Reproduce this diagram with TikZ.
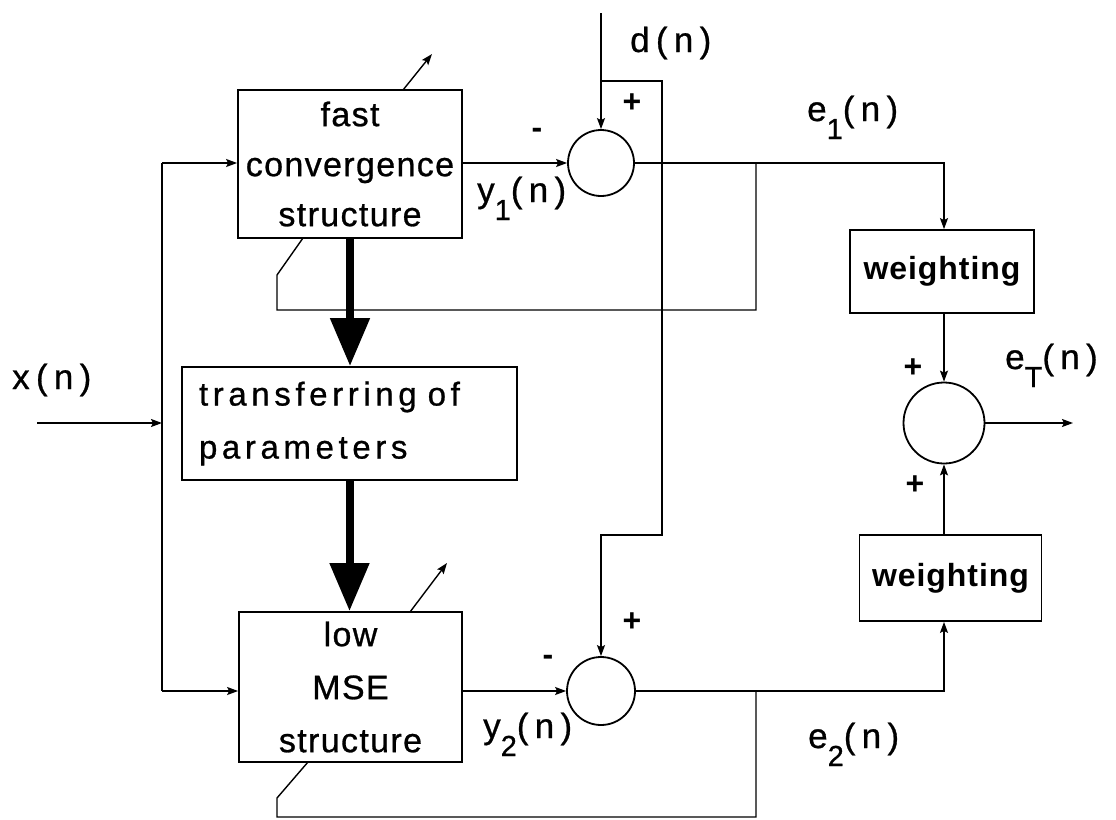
\documentclass[tikz,border=0pt]{standalone}
\usepackage{fontspec}
\setmainfont{Liberation Sans}
\newfontfamily\boxfont[LetterSpace=4,FakeBold=0.8]{Liberation Sans}
\newfontfamily\trfont[LetterSpace=14,FakeBold=0.8]{Liberation Sans}
\newfontfamily\wfont[LetterSpace=3]{Liberation Sans}
\newfontfamily\lblfont[LetterSpace=18,FakeBold=0.8]{Liberation Sans}
\usetikzlibrary{arrows.meta}
\newcommand\lsub[1]{\raisebox{-18pt}{\fontsize{29}{29}\selectfont #1}}
\tikzset{
  blockbox/.style={draw, line width=1.8pt, inner sep=0pt},
  sumnode/.style={draw, circle, line width=1.8pt, inner sep=0pt},
  conn/.style={line width=1.4pt},
  arr/.style={conn, -{Stealth[length=11pt,width=8pt,inset=2pt]}},
  bigarr/.style={line width=8pt, -{Triangle[length=48pt,width=38pt]}},
  lbl/.style={anchor=base west, inner sep=0pt, font=\lblfont\fontsize{35}{40}\selectfont},
  sign/.style={inner sep=0pt, font=\fontsize{32}{38}\selectfont\bfseries},
}
\begin{document}
\begin{tikzpicture}[x=1pt,y=-1pt]
\useasboundingbox (0,0) rectangle (1116,819);

% blocks
\node[blockbox, minimum width=224pt, minimum height=148pt, align=center,
      font=\boxfont\fontsize{34}{50}\selectfont] (fast) at (350,164) {fast\\convergence\\structure};
\node[blockbox, minimum width=223pt, minimum height=150pt, align=center,
      font=\boxfont\fontsize{34}{53}\selectfont] (low) at (350.5,687) {low\\MSE\\structure};
\node[blockbox, text width=301pt, inner xsep=17pt, minimum height=113pt, align=left,
      font=\trfont\fontsize{33}{53}\selectfont] (transfer) at (349.5,423.5) {transferring of\\parameters};
\node[blockbox, minimum width=184pt, minimum height=83pt,
      font=\wfont\bfseries\fontsize{32}{38}\selectfont] (w1) at (942,271.5) {weighting};
\node[blockbox, minimum width=182pt, minimum height=86pt,
      font=\wfont\bfseries\fontsize{32}{38}\selectfont] (w2) at (950.5,578) {weighting};

% summing junctions
\node[sumnode, minimum size=66pt] (sum1) at (601,163) {};
\node[sumnode, minimum size=68pt] (sum2) at (601,691) {};
\node[sumnode, minimum size=81pt] (sum3) at (944,423) {};

% coordinates
\coordinate (xin) at (37,423);
\coordinate (xj) at (162,423);
\coordinate (xtop) at (162,163);
\coordinate (xbot) at (162,691);
\coordinate (dtop) at (601,13);
\coordinate (dj) at (601,81);
\coordinate (dturn) at (662,535);
\coordinate (b1) at (756,163);
\coordinate (fb1b) at (277,310);
\coordinate (fb1c) at (277,275);
\coordinate (fb1d) at (303,238);
\coordinate (ad1a) at (403,90);
\coordinate (ad1b) at (432,54);
\coordinate (b2) at (756,691);
\coordinate (fb2b) at (277,817);
\coordinate (fb2c) at (277,798);
\coordinate (fb2d) at (308,762);
\coordinate (ad2a) at (410,612);
\coordinate (ad2b) at (447,563);
\coordinate (eout) at (1073,423);

% input distribution
\draw[arr] (xin) -- (xj);
\draw[conn] (xtop) -- (xbot);
\draw[arr] (xtop) -- (xtop -| fast.west);
\draw[arr] (xbot) -- (xbot -| low.west);

% filter outputs to summing junctions
\draw[arr] (sum1.west -| fast.east) -- (sum1.west);
\draw[arr] (sum2.west -| low.east) -- (sum2.west);

% desired signal
\draw[arr] (dtop) -- (sum1.north);
\draw[arr] (dj) -| (dturn) -| (sum2.north);

% errors to weighting
\draw[arr] (sum1.east) -| (w1.north -| sum3);
\draw[arr] (sum2.east) -| (w2.south -| sum3);
\draw[arr] (w1.south -| sum3) -- (sum3.north);
\draw[arr] (w2.north -| sum3) -- (sum3.south);
\draw[arr] (sum3.east) -- (eout);

% adaptation feedback
\draw[conn] (b1) |- (fb1b) -- (fb1c) -- (fb1d);
\draw[arr] (ad1a) -- (ad1b);
\draw[conn] (b2) |- (fb2b) -- (fb2c) -- (fb2d);
\draw[arr] (ad2a) -- (ad2b);

% parameter transfer
\draw[bigarr] (fast.south) -- (transfer.north -| fast.south);
\draw[bigarr] (transfer.south) -- (low.north -| transfer.south);

% labels
\node[lbl] (lx) at (12,389) {x(n)};
\node[lbl] (ld) at (630,52) {d(n)};
\node[lbl] (le1) at (807,121) {e\lsub{1}(n)};
\node[lbl] (ly1) at (477,202) {y\lsub{1}(n)};
\node[lbl] (ly2) at (483,738) {y\lsub{2}(n)};
\node[lbl] (le2) at (808,748) {e\lsub{2}(n)};
\node[lbl] (leT) at (1005,369) {e\lsub{T}(n)};

% signs
\node[sign] (p1) at (632,103) {+};
\node[sign] (m1) at (537,133) {-};
\node[sign] (p2) at (632,622) {+};
\node[sign] (m2) at (548,660) {-};
\node[sign] (p3) at (913,368) {+};
\node[sign] (p4) at (915,485) {+};
\end{tikzpicture}
\end{document}
